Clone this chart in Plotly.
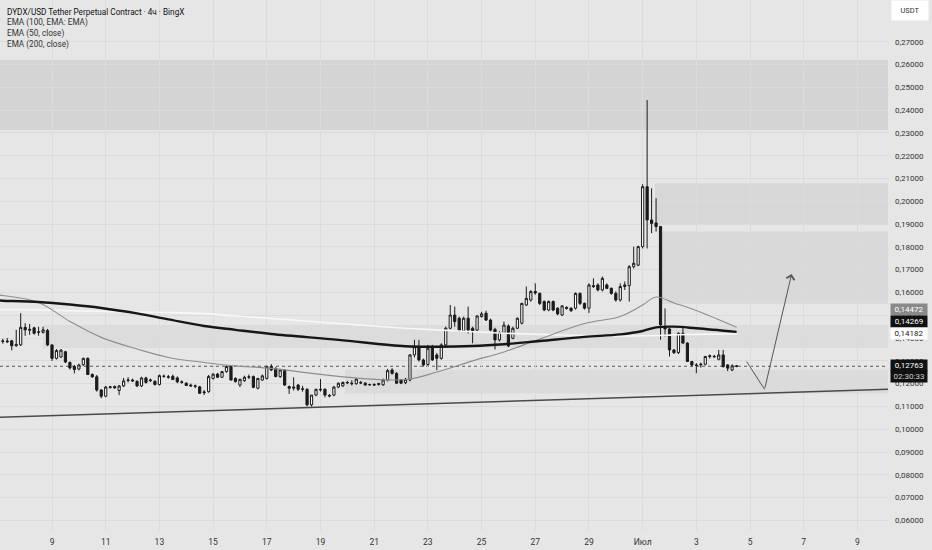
import pandas as pd
import plotly.graph_objects as go

# ---------------- data ----------------
candle_start = "2025-06-07 04:00"
candle_step = "4h"

opens = [.1385,.1387,.1388,.1366,.1370,.1447,.1434,.1445,.1425,.1425,
         .1433,.1370,.1311,.1317,.1340,.1293,.1275,.1264,.1283,.1311,
         .1240,.1230,.1172,.1145,.1183,.1187,.1170,.1190,.1214,.1216,
         .1210,.1190,.1225,.1213,.1210,.1196,.1233,.1230,.1232,.1225,
         .1208,.1202,.1194,.1188,.1186,.1160,.1165,.1223,.1242,.1228,
         .1253,.1275,.1223,.1194,.1213,.1228,.1231,.1180,.1216,.1223,
         .1275,.1267,.1231,.1260,.1187,.1180,.1194,.1175,.1175,.1107,
         .1150,.1172,.1175,.1148,.1150,.1185,.1190,.1203,.1202,.1200,
         .1205,.1202,.1195,.1196,.1196,.1195,.1216,.1260,.1245,.1216,
         .1204,.1216,.1326,.1359,.1304,.1284,.1362,.1326,.1311,.1370,
         .1443,.1501,.1487,.1432,.1487,.1443,.1435,.1494,.1509,.1479,
         .1438,.1392,.1421,.1453,.1399,.1443,.1465,.1545,.1567,.1604,
         .1596,.1560,.1523,.1560,.1531,.1501,.1534,.1531,.1531,.1596,
         .1552,.1531,.1630,.1633,.1611,.1633,.1618,.1596,.1567,.1626,
         .1630,.1713,.1720,.1801,.2064,.1918,.1905,.1889,.1451,.1440,
         .1348,.1336,.1421,.1378,.1297,.1282,.1282,.1285,.1319,.1320,
         .1307,.1326,.1282,.1260,.1278]
highs = [.1397,.1400,.1392,.1436,.1509,.1465,.1462,.1450,.1450,.1450,
         .1440,.1372,.1352,.1351,.1344,.1297,.1282,.1287,.1314,.1315,
         .1245,.1238,.1176,.1190,.1190,.1192,.1194,.1225,.1228,.1222,
         .1215,.1230,.1230,.1222,.1215,.1240,.1240,.1238,.1240,.1232,
         .1214,.1206,.1200,.1196,.1190,.1172,.1238,.1245,.1247,.1255,
         .1280,.1280,.1228,.1222,.1235,.1240,.1236,.1225,.1240,.1280,
         .1286,.1272,.1265,.1262,.1192,.1228,.1198,.1190,.1180,.1150,
         .1178,.1220,.1180,.1155,.1190,.1205,.1210,.1212,.1215,.1225,
         .1212,.1206,.1200,.1202,.1204,.1222,.1265,.1268,.1250,.1220,
         .1225,.1330,.1392,.1392,.1310,.1370,.1370,.1335,.1377,.1450,
         .1545,.1538,.1494,.1494,.1538,.1450,.1500,.1515,.1520,.1485,
         .1445,.1430,.1472,.1460,.1450,.1490,.1555,.1626,.1610,.1640,
         .1600,.1565,.1565,.1565,.1535,.1545,.1540,.1535,.1600,.1600,
         .1556,.1640,.1662,.1640,.1670,.1640,.1622,.1605,.1640,.1648,
         .1720,.1801,.1805,.2075,.2444,.2057,.2013,.1892,.1530,.1445,
         .1352,.1425,.1451,.1382,.1300,.1290,.1292,.1322,.1328,.1326,
         .1348,.1348,.1285,.1285,.1282]
lows = [.1375,.1378,.1346,.1362,.1365,.1410,.1414,.1415,.1410,.1420,
        .1365,.1300,.1306,.1313,.1290,.1262,.1245,.1258,.1278,.1240,
        .1225,.1165,.1136,.1140,.1178,.1178,.1150,.1185,.1205,.1208,
        .1185,.1185,.1200,.1207,.1192,.1192,.1226,.1222,.1216,.1202,
        .1200,.1190,.1186,.1180,.1155,.1150,.1160,.1218,.1225,.1225,
        .1248,.1214,.1205,.1185,.1208,.1220,.1180,.1175,.1212,.1218,
        .1255,.1228,.1225,.1190,.1155,.1170,.1168,.1165,.1100,.1100,
        .1145,.1165,.1140,.1140,.1145,.1180,.1185,.1198,.1192,.1195,
        .1198,.1192,.1190,.1190,.1192,.1190,.1210,.1240,.1198,.1198,
        .1198,.1210,.1315,.1297,.1275,.1278,.1300,.1260,.1305,.1365,
        .1438,.1450,.1428,.1428,.1420,.1377,.1430,.1490,.1475,.1430,
        .1350,.1385,.1418,.1360,.1395,.1440,.1460,.1540,.1560,.1590,
        .1545,.1518,.1518,.1518,.1500,.1497,.1525,.1515,.1525,.1545,
        .1525,.1510,.1620,.1605,.1605,.1615,.1590,.1560,.1560,.1611,
        .1560,.1705,.1715,.1793,.1793,.1860,.1867,.1393,.1407,.1319,
        .1330,.1330,.1375,.1295,.1275,.1246,.1270,.1280,.1310,.1314,
        .1302,.1270,.1255,.1255,.1272]
closes = [.1387,.1384,.1366,.1372,.1447,.1436,.1438,.1421,.1427,.1436,
          .1370,.1311,.1345,.1347,.1295,.1269,.1262,.1282,.1311,.1240,
          .1230,.1172,.1145,.1185,.1186,.1182,.1190,.1212,.1216,.1212,
          .1190,.1225,.1205,.1216,.1196,.1235,.1232,.1228,.1218,.1208,
          .1206,.1192,.1190,.1190,.1158,.1163,.1231,.1242,.1228,.1253,
          .1275,.1216,.1209,.1219,.1228,.1230,.1184,.1223,.1234,.1275,
          .1260,.1231,.1260,.1194,.1180,.1185,.1175,.1177,.1107,.1150,
          .1175,.1175,.1150,.1146,.1185,.1202,.1205,.1205,.1200,.1220,
          .1203,.1194,.1196,.1194,.1200,.1216,.1257,.1245,.1202,.1202,
          .1219,.1326,.1362,.1304,.1282,.1355,.1304,.1311,.1370,.1443,
          .1501,.1472,.1432,.1487,.1435,.1432,.1497,.1506,.1479,.1435,
          .1392,.1424,.1457,.1365,.1443,.1487,.1552,.1574,.1604,.1598,
          .1552,.1523,.1560,.1523,.1506,.1541,.1530,.1520,.1596,.1552,
          .1531,.1633,.1626,.1611,.1662,.1618,.1596,.1567,.1626,.1633,
          .1713,.1728,.1801,.2064,.1918,.1903,.1889,.1458,.1440,.1348,
          .1336,.1421,.1378,.1297,.1282,.1280,.1285,.1319,.1322,.1318,
          .1326,.1275,.1268,.1278,.12763]

# moving averages, read at these candle indices
ema_idx = [-1, 0, 8, 15, 22, 30, 37, 45, 52, 60, 75, 90, 97, 105, 112,
           120, 130, 138, 143, 146, 150, 155, 164]
ema50_vals = [.1589, .1587, .1556, .1473, .1403, .1352, .1315, .1293, .1278,
              .1267, .1232, .1218, .1251, .1300, .1339, .1396, .1464, .1495,
              .1545, .1580, .1554, .1521, .14472]
ema100_vals = [.1565, .1564, .1558, .1547, .1532, .1508, .1482, .1453, .1436,
               .1418, .1392, .1364, .1362, .1365, .1373, .1387, .1405, .1416,
               .1431, .1447, .1450, .1443, .14269]
ema200_vals = [.1525, .1525, .1523, .1520, .1517, .1514, .1512, .1507, .1497,
               .1486, .1464, .1443, .1436, .1428, .1421, .1416, .1411, .1409,
               .1410, .1411, .1414, .1416, .14182]

current_price = 0.12763
timer_text = "02:30:33"

# drawn zones (rectangles)
zone_start = ["2025-06-06 00:00", "2025-07-01 11:00", "2025-07-01 15:30",
              "2025-06-08 16:00", "2025-06-19 21:50"]
zone_end = ["2025-07-12 00:00"] * 5
zone_low = [0.2313, 0.1896, 0.1550, 0.1356, 0.1157]
zone_high = [0.2620, 0.2079, 0.1867, 0.1457, 0.1262]
zone_color = ["#d4d4d4", "#d7d7d7", "#d9d9d9", "#dcdcdc", "#dbdbdb"]

# trend line and projected path
trend_dates = ["2025-06-07 01:30", "2025-07-10 03:20"]
trend_prices = [0.1053, 0.1175]
path_dates = ["2025-07-04 20:57", "2025-07-05 13:00", "2025-07-06 13:10"]
path_prices = [0.1297, 0.1175, 0.1681]

# axes
x_range = ["2025-06-07 01:30", "2025-07-10 03:20"]
y_range = [0.0558, 0.2883]
x_tick_dates = ["2025-06-09", "2025-06-11", "2025-06-13", "2025-06-15",
                "2025-06-17", "2025-06-19", "2025-06-21", "2025-06-23",
                "2025-06-25", "2025-06-27", "2025-06-29", "2025-07-01",
                "2025-07-03", "2025-07-05", "2025-07-07", "2025-07-09"]
x_tick_text = ["9", "11", "13", "15", "17", "19", "21", "23", "25", "27",
               "29", "Июл", "3", "5", "7", "9"]
y_ticks = [0.06, 0.07, 0.08, 0.09, 0.10, 0.11, 0.12, 0.13, 0.14, 0.15, 0.16,
           0.17, 0.18, 0.19, 0.20, 0.21, 0.22, 0.23, 0.24, 0.25, 0.26, 0.27]

legend_lines = ["DYDX/USD Tether Perpetual Contract · 4ч · BingX",
                "EMA (100, EMA: EMA)", "EMA (50, close)", "EMA (200, close)"]
currency = "USDT"

# ---------------- figure ----------------
times = pd.date_range(candle_start, periods=len(opens), freq=candle_step)
step = pd.Timedelta(candle_step)
ema_times = [times[0] + i * step for i in ema_idx]

BG = "#e6e6e6"
GRID = "#dbdbdb"
FONT = "Roboto"
W, H = 932, 550
ML, MR, MT, MB = 0, 44, 0, 20
PH = H - MT - MB

fig = go.Figure()

for xs, xe, lo, hi, col in zip(zone_start, zone_end, zone_low, zone_high, zone_color):
    fig.add_shape(type="rect", xref="x", yref="y", x0=xs, x1=xe, y0=lo, y1=hi,
                  fillcolor=col, line=dict(width=0), layer="below")

fig.add_shape(type="line", xref="paper", yref="y", x0=0, x1=1,
              y0=current_price, y1=current_price,
              line=dict(color="#555555", width=1, dash="dot"), layer="below")

fig.add_trace(go.Scatter(x=trend_dates, y=trend_prices, mode="lines",
                         line=dict(color="#4a4a4a", width=1.5), hoverinfo="skip"))

fig.add_trace(go.Scatter(x=ema_times, y=ema200_vals, mode="lines",
                         line=dict(color="#f7f7f7", width=1.6, shape="spline"),
                         hoverinfo="skip"))
fig.add_trace(go.Scatter(x=ema_times, y=ema50_vals, mode="lines",
                         line=dict(color="#8e8e8e", width=1.1, shape="spline"),
                         hoverinfo="skip"))
fig.add_trace(go.Scatter(x=ema_times, y=ema100_vals, mode="lines",
                         line=dict(color="#161616", width=2.4, shape="spline"),
                         hoverinfo="skip"))

fig.add_trace(go.Candlestick(
    x=times, open=opens, high=highs, low=lows, close=closes,
    increasing=dict(fillcolor="#ffffff", line=dict(color="#1a1a1a", width=1)),
    decreasing=dict(fillcolor="#1a1a1a", line=dict(color="#1a1a1a", width=1)),
    whiskerwidth=0, hoverinfo="skip"))

fig.add_trace(go.Scatter(x=path_dates[:2], y=path_prices[:2], mode="lines",
                         line=dict(color="#555555", width=1), hoverinfo="skip"))
fig.add_annotation(x=path_dates[2], y=path_prices[2], ax=path_dates[1], ay=path_prices[1],
                   xref="x", yref="y", axref="x", ayref="y", text="",
                   showarrow=True, arrowhead=4, arrowsize=1.6, arrowwidth=1,
                   arrowcolor="#555555")

# legend texts (top-left)
for k, txt in enumerate(legend_lines):
    fig.add_annotation(xref="paper", yref="paper", x=5 / (W - ML - MR),
                       y=1 - (12 + 11 * k) / PH, xanchor="left", yanchor="middle",
                       text=txt, showarrow=False,
                       font=dict(family=FONT, size=8.2,
                                 color="#111111" if k == 0 else "#333333"))

# currency box
fig.add_annotation(xref="paper", yref="paper", x=1, xshift=3, y=1 - 11 / PH,
                   xanchor="left", yanchor="middle", text=currency, showarrow=False,
                   bgcolor="#ffffff", width=34, height=17, borderpad=1,
                   font=dict(family=FONT, size=7.5, color="#333333"))

def fmt(v):
    return f"{v:.5f}".replace(".", ",")

labels = [(ema50_vals[-1], "#8a8a8a", "#ffffff", 17.6),
          (ema100_vals[-1], "#111111", "#ffffff", 10.3),
          (ema200_vals[-1], "#ffffff", "#222222", 0.5),
          (current_price, "#111111", "#ffffff", 0.8)]
for val, bg, fc, ys in labels:
    fig.add_annotation(xref="paper", yref="y", x=1, xshift=2, y=val, yshift=ys,
                       xanchor="left", yanchor="middle", text=fmt(val),
                       showarrow=False, bgcolor=bg, width=35, height=10, borderpad=0.5,
                       font=dict(family=FONT, size=8, color=fc))
fig.add_annotation(xref="paper", yref="y", x=1, xshift=2, y=current_price, yshift=-9.8,
                   xanchor="left", yanchor="middle", text=timer_text, showarrow=False,
                   bgcolor="#111111", width=35, height=10, borderpad=0.5,
                   font=dict(family=FONT, size=8, color="#cfcfcf"))

fig.update_layout(
    width=W, height=H, margin=dict(l=ML, r=MR, t=MT, b=MB),
    paper_bgcolor=BG, plot_bgcolor=BG, showlegend=False,
    separators=", ",
    font=dict(family=FONT, size=8, color="#333333"),
    xaxis=dict(type="date", range=x_range, rangeslider=dict(visible=False),
               tickvals=x_tick_dates, ticktext=x_tick_text, showgrid=True,
               gridcolor=GRID, gridwidth=1, zeroline=False, showline=False,
               ticks="", ticklabelstandoff=5,
               tickfont=dict(family=FONT, size=8.5, color="#333333")),
    yaxis=dict(side="right", range=y_range, tickvals=y_ticks, tickformat=".5f",
               showgrid=True, gridcolor=GRID, gridwidth=1, zeroline=False,
               showline=False, ticks="", ticklabelstandoff=6,
               tickfont=dict(family=FONT, size=8, color="#333333")),
)

fig.write_html("out.html", config=dict(displayModeBar=False),
               post_script="document.body.style.margin='0';"
                           "document.body.style.overflow='hidden';")
